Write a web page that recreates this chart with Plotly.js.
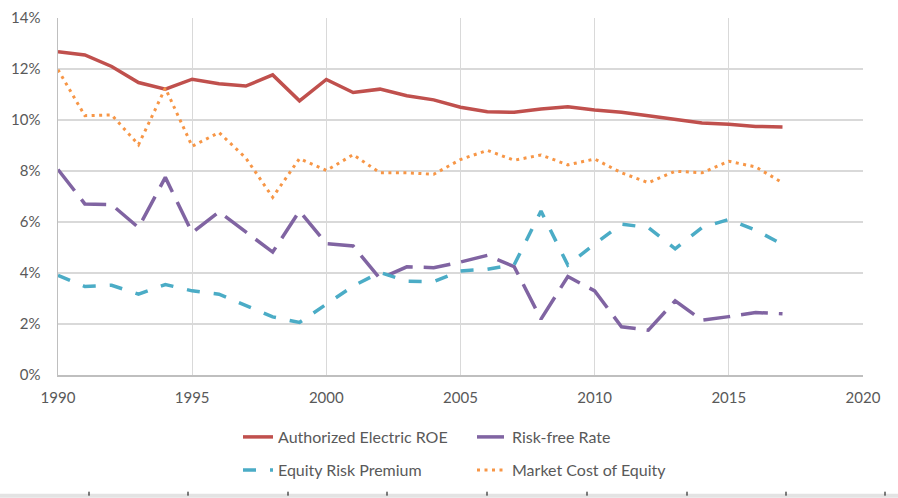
<!DOCTYPE html>
<html>
<head>
<meta charset="utf-8">
<script src="https://cdn.plot.ly/plotly-3.0.1.min.js"></script>
<style>html,body{margin:0;padding:0;background:#fff;}#chart{width:898px;height:498px;}</style>
</head>
<body>
<div id="chart"></div>
<script>
var years = [1990,1991,1992,1993,1994,1995,1996,1997,1998,1999,2000,2001,2002,2003,2004,2005,2006,2007,2008,2009,2010,2011,2012,2013,2014,2015,2016,2017];
var authorizedROE = [12.68,12.55,12.10,11.47,11.21,11.60,11.42,11.33,11.77,10.75,11.59,11.08,11.21,10.95,10.79,10.50,10.32,10.30,10.43,10.52,10.39,10.30,10.17,10.04,9.88,9.83,9.75,9.73];
var riskFree = [8.06,6.71,6.68,5.78,7.75,5.58,6.40,5.62,4.82,6.43,5.15,5.06,3.78,4.24,4.21,4.43,4.69,4.25,2.19,3.86,3.30,1.89,1.76,2.91,2.15,2.29,2.45,2.40];
var equityRiskPremium = [3.91,3.47,3.52,3.17,3.55,3.30,3.17,2.71,2.28,2.06,2.76,3.49,4.02,3.68,3.66,4.08,4.15,4.32,6.43,4.31,5.14,5.92,5.78,4.95,5.78,6.10,5.68,5.12];
var marketCostEquity = [11.97,10.17,10.20,9.03,11.25,8.97,9.51,8.51,6.97,8.49,8.02,8.64,7.93,7.93,7.87,8.45,8.81,8.42,8.63,8.24,8.47,7.93,7.54,7.99,7.93,8.38,8.16,7.54];
var yTicks = [0,2,4,6,8,10,12,14];
var yTickLabels = ['0%','2%','4%','6%','8%','10%','12%','14%'];
var xTicks = [1990,1995,2000,2005,2010,2015,2020];

var txt = '#595959';
var fnt = {family: 'Lato, "Open Sans", sans-serif', size: 15, color: txt};
var legFnt = {family: 'Lato, "Open Sans", sans-serif', size: 16, color: txt};

var traces = [
  {x: years, y: authorizedROE, name: 'Authorized Electric ROE', type: 'scatter', mode: 'lines',
   line: {color: '#C0504D', width: 3.5}, legend: 'legend'},
  {x: years, y: riskFree, name: 'Risk-free Rate', type: 'scatter', mode: 'lines',
   line: {color: '#8064A2', width: 3.5, dash: '27px,11px'}, legend: 'legend'},
  {x: years, y: equityRiskPremium, name: 'Equity Risk Premium', type: 'scatter', mode: 'lines',
   line: {color: '#4BACC6', width: 3.5, dash: '13px,14px'}, legend: 'legend2'},
  {x: years, y: marketCostEquity, name: 'Market Cost of Equity', type: 'scatter', mode: 'lines',
   line: {color: '#F79646', width: 3, dash: '3px,4.5px'}, legend: 'legend2'}
];

var W = 898, H = 498, L = 58, R = 35, T = 18, B = 122;
var pw = W - L - R, ph = H - T - B;
function px2x(p){ return (p - L) / pw; }
function py2y(p){ return 1 - (p - T) / ph; }

var shapes = [{type: 'rect', xref: 'paper', yref: 'paper', x0: px2x(0), x1: px2x(898), y0: py2y(495), y1: py2y(499),
  fillcolor: '#e3e3e3', line: {width: 0}, layer: 'below'}];
[89,188,288,387,487,587,687,786,885].forEach(function(p){
  shapes.push({type: 'line', xref: 'paper', yref: 'paper', x0: px2x(p), x1: px2x(p), y0: py2y(493), y1: py2y(497),
    line: {color: '#000', width: 1}});
});

var legendBase = {orientation: 'h', xanchor: 'left', yanchor: 'middle', x: px2x(238),
  font: legFnt, bgcolor: 'rgba(0,0,0,0)', entrywidth: 189, itemclick: false, itemdoubleclick: false};

var layout = {
  width: W, height: H,
  margin: {l: L, r: R, t: T, b: B, pad: 0},
  paper_bgcolor: '#fff', plot_bgcolor: '#fff',
  font: fnt,
  showlegend: true,
  xaxis: {range: [1990, 2020], tickmode: 'array', tickvals: xTicks, ticktext: xTicks.map(String),
    showgrid: true, gridcolor: '#D9D9D9', gridwidth: 1.3, zeroline: false,
    showline: true, linecolor: '#BFBFBF', linewidth: 2, mirror: false,
    ticks: '', ticklabelstandoff: 8, tickfont: fnt, fixedrange: true},
  yaxis: {range: [0, 14], tickmode: 'array', tickvals: yTicks, ticktext: yTickLabels,
    showgrid: true, gridcolor: '#D9D9D9', gridwidth: 1.3, zeroline: false,
    showline: true, linecolor: '#BFBFBF', linewidth: 1.5,
    ticks: '', ticklabelstandoff: 13, tickfont: fnt, fixedrange: true},
  legend: Object.assign({}, legendBase, {y: py2y(437)}),
  legend2: Object.assign({}, legendBase, {y: py2y(470)}),
  shapes: shapes
};

Plotly.newPlot('chart', traces, layout, {displayModeBar: false, staticPlot: true});
</script>
</body>
</html>
